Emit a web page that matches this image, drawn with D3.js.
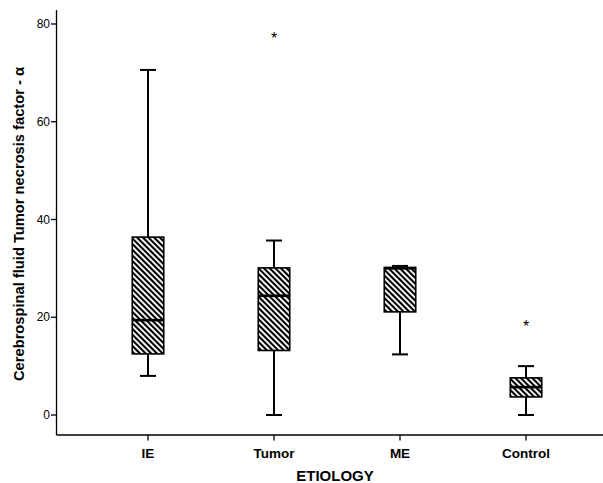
<!DOCTYPE html>
<html>
<head>
<meta charset="utf-8">
<script src="https://cdn.jsdelivr.net/npm/d3@7"></script>
<style>
  body { margin: 0; background: #fff; }
  svg { display: block; font-family: "Liberation Sans", Arial, sans-serif; }
</style>
</head>
<body>
<svg id="chart" width="603" height="483"></svg>
<script>
// box plot data
const categories = ["IE", "Tumor", "ME", "Control"];
const whiskerLow = [8.0, 0, 12.4, 0];
const q1 = [12.5, 13.2, 21.1, 3.7];
const medians = [19.4, 24.4, 30.0, 5.7];
const q3 = [36.4, 30.1, 30.2, 7.6];
const whiskerHigh = [70.6, 35.7, 30.5, 10.0];
const outliers = [[], [78], [], [19]];
const yTicks = [0, 20, 40, 60, 80];

const svg = d3.select("#chart");

const x = d3.scaleBand().domain(categories).range([85, 589]);
const y = d3.scaleLinear().domain([0, 80]).range([415, 24]);

// hatch fill
const defs = svg.append("defs");
const pat = defs.append("pattern")
  .attr("id", "hatch")
  .attr("patternUnits", "userSpaceOnUse")
  .attr("width", 4)
  .attr("height", 4)
  .attr("patternTransform", "rotate(-45)");
pat.append("rect").attr("width", 4).attr("height", 4).attr("fill", "#fff");
pat.append("rect").attr("x", 0).attr("width", 2.1).attr("height", 4).attr("fill", "#000");

// axes
const xAxisY = 435;
svg.append("line").attr("x1", 56.5).attr("x2", 603).attr("y1", xAxisY).attr("y2", xAxisY)
  .attr("stroke", "#000").attr("stroke-width", 1.3);
svg.append("line").attr("x1", 56.5).attr("x2", 56.5).attr("y1", 10).attr("y2", xAxisY)
  .attr("stroke", "#000").attr("stroke-width", 1.3);

const yt = svg.append("g");
yTicks.forEach(t => {
  yt.append("line").attr("x1", 51).attr("x2", 56.5).attr("y1", y(t)).attr("y2", y(t))
    .attr("stroke", "#000").attr("stroke-width", 1.3);
  yt.append("text").attr("x", 50).attr("y", y(t)).attr("dy", "0.35em")
    .attr("text-anchor", "end").attr("font-size", 12).text(t);
});

categories.forEach(c => {
  const cx = x(c) + x.bandwidth() / 2;
  svg.append("line").attr("x1", cx).attr("x2", cx).attr("y1", xAxisY).attr("y2", xAxisY + 5.5)
    .attr("stroke", "#000").attr("stroke-width", 1.3);
  svg.append("text").attr("x", cx).attr("y", 458).attr("text-anchor", "middle")
    .attr("font-size", 13.5).attr("font-weight", "bold").text(c);
});

svg.append("text").attr("x", 335).attr("y", 481).attr("text-anchor", "middle")
  .attr("font-size", 15).attr("font-weight", "bold").text("ETIOLOGY");

svg.append("text")
  .attr("transform", "translate(24, 224) rotate(-90)")
  .attr("text-anchor", "middle")
  .attr("font-size", 14.7).attr("font-weight", "bold")
  .text("Cerebrospinal fluid Tumor necrosis factor - α");

// boxes
const boxW = 31.5, capW = 16;
categories.forEach((c, i) => {
  const cx = x(c) + x.bandwidth() / 2;
  const g = svg.append("g");
  // whiskers
  g.append("line").attr("x1", cx).attr("x2", cx).attr("y1", y(whiskerHigh[i])).attr("y2", y(q3[i]))
    .attr("stroke", "#000").attr("stroke-width", 2);
  g.append("line").attr("x1", cx).attr("x2", cx).attr("y1", y(q1[i])).attr("y2", y(whiskerLow[i]))
    .attr("stroke", "#000").attr("stroke-width", 2);
  [whiskerHigh[i], whiskerLow[i]].forEach(v => {
    g.append("line").attr("x1", cx - capW / 2).attr("x2", cx + capW / 2).attr("y1", y(v)).attr("y2", y(v))
      .attr("stroke", "#000").attr("stroke-width", 2);
  });
  g.append("rect")
    .attr("x", cx - boxW / 2).attr("width", boxW)
    .attr("y", y(q3[i])).attr("height", y(q1[i]) - y(q3[i]))
    .attr("fill", "url(#hatch)").attr("stroke", "#000").attr("stroke-width", 1.6);
  g.append("line").attr("x1", cx - boxW / 2).attr("x2", cx + boxW / 2)
    .attr("y1", y(medians[i])).attr("y2", y(medians[i]))
    .attr("stroke", "#000").attr("stroke-width", 2.6);
  outliers[i].forEach(v => {
    g.append("text").attr("x", cx).attr("y", y(v)).attr("dy", "0.62em")
      .attr("text-anchor", "middle").attr("font-size", 16).text("*");
  });
});
</script>
</body>
</html>
